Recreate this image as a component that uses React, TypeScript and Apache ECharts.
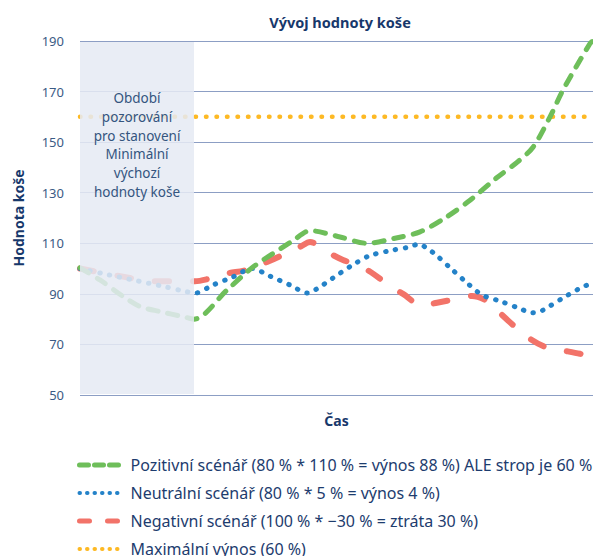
import React, { useEffect, useRef } from "react";
import * as echarts from "echarts";

const titleText = "Vývoj hodnoty koše";
const yAxisName = "Hodnota koše";
const xAxisName = "Čas";
const bandText = "Období\npozorování\npro stanovení\nMinimální\nvýchozí\nhodnoty koše";

const xMin = 0;
const xMax = 513;
const yMin = 50;
const yMax = 190;
const yInterval = 20;
const bandX = [0, 114];
const bandY = [50.4, 189.6];

const seriesNames = [
  "Pozitivní scénář (80 % * 110 % = výnos 88 %) ALE strop je 60 %",
  "Neutrální scénář (80 % * 5 % = výnos 4 %)",
  "Negativní scénář (100 % * −30 % = ztráta 30 %)",
  "Maximální výnos (60 %)",
];

const positiveT = [0, 20, 43, 60, 80, 103, 114, 147, 173, 213, 230, 260, 287, 315, 340, 365, 390, 417, 437, 453, 470, 483, 510, 513];
const positiveV = [100.3, 95.5, 89, 85, 83, 81, 80, 91.5, 100.6, 111, 115, 112.5, 110, 112, 114.5, 120, 127, 136, 142, 148, 160, 170.6, 189, 190];

const neutralT = [0, 23, 53, 83, 105, 115, 133, 153, 172, 190, 210, 228, 237, 253, 271, 289, 309, 329, 339, 347, 356, 371, 386, 402, 421, 441, 451, 460, 469, 487, 504, 513];
const neutralV = [100, 98, 95.5, 93, 91, 90.3, 93.5, 96.7, 100, 97, 93.5, 90.3, 92, 96.3, 101, 105, 107, 108.5, 109.7, 108, 105.4, 100, 94.7, 89.6, 87, 84, 82.5, 83, 85, 89.3, 93, 94];

const negativeT = [0, 20, 50, 73, 92, 115, 127, 147, 167, 187, 220, 230, 247, 263, 280, 293, 310, 323, 342, 357, 377, 392, 408, 420, 435, 447, 465, 480, 500, 513];
const negativeV = [100, 98.5, 96.3, 95, 95, 95, 95.8, 98, 99.5, 102.6, 108.6, 110.5, 106.6, 103.4, 101, 98, 93, 90, 85.3, 86.5, 88, 89.2, 87, 82.4, 77, 73, 69, 67.8, 66.3, 65];

const maxT = [0, 513];
const maxV = [160, 160];

const colors = ["#6ebe5a", "#2482c8", "#f27369", "#fdb924"];

const pairs = (t: number[], v: number[]) => t.map((x, i) => [x, v[i]]);

export default function App() {
  const ref = useRef<HTMLDivElement>(null);
  useEffect(() => {
    if (!ref.current) return;
    const chart = echarts.init(ref.current, undefined, { renderer: "svg" });
    const font = "'Noto Sans', sans-serif";
    const lineStyles = [
      { color: colors[0], width: 5, type: [10, 10], cap: "round" },
      { color: colors[1], width: 5, type: [0.5, 9.5], cap: "round" },
      { color: colors[2], width: 6, type: [14, 24], cap: "round" },
      { color: colors[3], width: 4.5, type: [0.5, 10], cap: "round" },
    ];
    const legendLineStyles = [
      { color: colors[0], width: 5, type: [9, 6], cap: "round" },
      { color: colors[1], width: 4, type: [0.5, 7], cap: "round" },
      { color: colors[2], width: 5, type: [10, 18], cap: "round" },
      { color: colors[3], width: 4, type: [0.5, 7], cap: "round" },
    ];
    const datas = [
      pairs(positiveT, positiveV),
      pairs(neutralT, neutralV),
      pairs(negativeT, negativeV),
      pairs(maxT, maxV),
    ];
    const order = [3, 2, 1, 0];
    const series: any[] = order.map((i) => ({
      name: seriesNames[i],
      type: "line",
      data: datas[i],
      symbol: "none",
      smooth: i === 3 ? false : 0.3,
      lineStyle: lineStyles[i],
      itemStyle: { color: colors[i] },
      z: 2 + (3 - i),
    }));
    series.push({
      name: "__band",
      type: "line",
      data: [],
      z: 20,
      silent: true,
      markArea: {
        silent: true,
        z: 20,
        itemStyle: { color: "rgba(229,234,243,0.86)" },
        label: {
          show: true,
          position: "insideTop",
          distance: 47,
          formatter: bandText,
          color: "#34557f",
          fontSize: 13.5,
          lineHeight: 18.7,
          fontFamily: font,
          align: "center",
        },
        data: [[{ coord: [bandX[0], bandY[1]] }, { coord: [bandX[1], bandY[0]] }]],
      },
    });

    chart.setOption({
      animation: false,
      title: {
        text: titleText,
        left: 335,
        textAlign: "center",
        top: 9,
        textStyle: { fontSize: 14.5, fontWeight: "bold", color: "#17386b", fontFamily: font },
      },
      grid: { left: 80, right: 0, top: 41, height: 354 },
      legend: {
        orient: "vertical",
        left: 77,
        top: 457,
        height: 130,
        padding: 0,
        itemWidth: 39,
        itemHeight: 14,
        itemGap: 12,
        selectedMode: false,
        itemStyle: { opacity: 0, color: "transparent", borderWidth: 0 },
        textStyle: { fontSize: 16, lineHeight: 14, color: "#1d3c6e", fontFamily: font, padding: [0, 0, 0, 7] },
        data: seriesNames.map((n, i) => ({ name: n, lineStyle: legendLineStyles[i] })),
      },
      xAxis: {
        type: "value",
        min: xMin,
        max: xMax,
        name: xAxisName,
        nameLocation: "middle",
        nameGap: 18,
        nameTextStyle: { fontSize: 14, fontWeight: "bold", color: "#17386b", fontFamily: font },
        axisLine: { show: false },
        axisTick: { show: false },
        axisLabel: { show: false },
        splitLine: { show: false },
      },
      yAxis: {
        type: "value",
        min: yMin,
        max: yMax,
        interval: yInterval,
        name: yAxisName,
        nameLocation: "middle",
        nameGap: 55,
        nameRotate: 90,
        nameTextStyle: { fontSize: 14, fontWeight: "bold", color: "#17386b", fontFamily: font },
        axisLine: { show: false },
        axisTick: { show: false },
        axisLabel: { margin: 16, fontSize: 13, color: "#3b5b85", fontFamily: font },
        splitLine: { lineStyle: { color: "#8c9ec4", width: 1 } },
      },
      series,
    });
    return () => chart.dispose();
  }, []);
  return (
    <div
      ref={ref}
      style={{ position: "absolute", left: 0, top: 0, width: 593, height: 556, background: "#fff" }}
    />
  );
}
